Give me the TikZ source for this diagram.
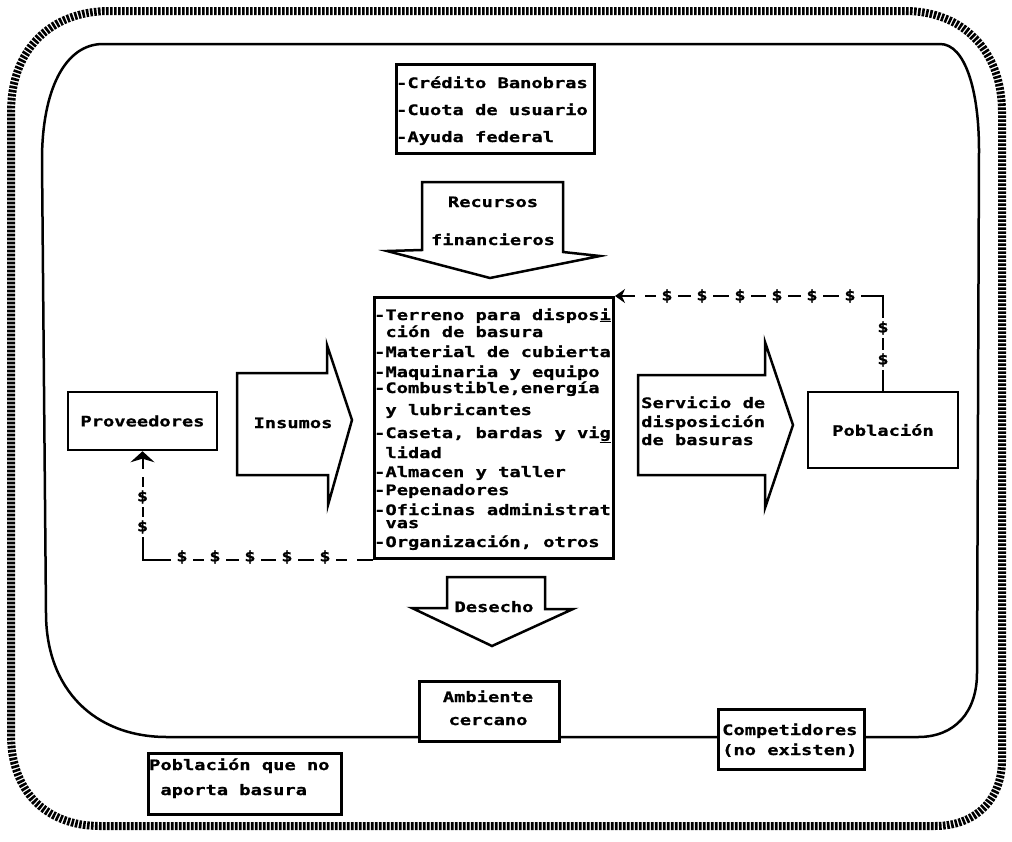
\documentclass[tikz,border=0pt]{standalone}
\usepackage{fontspec}
\newfontfamily\dotfont[FakeStretch=1.3,FakeBold=1]{DejaVu Sans Mono Bold}
\usetikzlibrary{arrows.meta}

\begin{document}
\begin{tikzpicture}[x=1pt,y=-1pt,
  every node/.style={font=\dotfont\fontsize{14.4}{16}\selectfont, inner sep=0pt},
  box/.style={draw, line width=2.5pt, fill=white},
  blockarrow/.style={draw, line width=2.5pt, line join=miter, fill=white},
  hatch/.style={line width=8pt, dash pattern=on 2.6pt off 1.4pt},
  frame/.style={line width=2.5pt},
  money/.style={line width=2pt},
  dol/.style={fill=white, inner xsep=5pt, inner ysep=3pt},
  txt/.style={anchor=base west},
  ctr/.style={anchor=base}
]
\useasboundingbox (0,0) rectangle (1012,841);

% outer environment border
\draw[hatch] (110,11) -- (905,11) .. controls (962,11) and (1002,50) .. (1002,112)
  -- (1002,760) .. controls (1002,800) and (975,826) .. (935,826)
  -- (100,826) .. controls (45,826) and (11,790) .. (11,735)
  -- (11,112) .. controls (11,50) and (50,11) .. (110,11) -- cycle;

% inner system border
\draw[frame] (103,44) -- (940,44) .. controls (965,44) and (979,90) .. (979,150)
  -- (977,673) .. controls (977,712) and (955,737) .. (918,737)
  -- (167,737) .. controls (95,737) and (46,690) .. (46,613)
  -- (42,160) .. controls (42,90) and (65,44) .. (103,44) -- cycle;

% sources of funding
\node[box, anchor=north west, minimum width=198pt, minimum height=89pt] (fund) at (395,63) {};
\node[txt] (f1) at (396,88) {-Crédito Banobras};
\node[txt] (f2) at (396,115) {-Cuota de usuario};
\node[txt] (f3) at (396,142) {-Ayuda federal};

% financial resources arrow
\draw[blockarrow] (422,182) -- (563,182) -- (563,252) -- (600,256) -- (490,278)
  -- (387,251) -- (422,250) -- cycle;
\node[ctr] (rec1) at (493,207) {Recursos};
\node[ctr] (rec2) at (493,245) {financieros};

% central list of resources
\node[box, line width=3pt, anchor=north west, minimum width=239pt, minimum height=261pt] (cb) at (373,296) {};
\node[txt] (l1) at (374,320) {-Terreno para dispos\underline{i}};
\node[txt] (l2) at (374,337) {\hphantom{-}ción de basura};
\node[txt] (l3) at (374,357) {-Material de cubierta};
\node[txt] (l4) at (374,377) {-Maquinaria y equipo};
\node[txt] (l5) at (374,393) {-Combustible,energía};
\node[txt] (l6) at (374,415) {\hphantom{-}y lubricantes};
\node[txt] (l7) at (374,438) {-Caseta, bardas y vi\underline{g}};
\node[txt] (l8) at (374,458) {\hphantom{-}lidad};
\node[txt] (l9) at (374,477) {-Almacen y taller};
\node[txt] (l10) at (374,495) {-Pepenadores};
\node[txt] (l11) at (374,515) {-Oficinas administrat};
\node[txt] (l12) at (374,528) {\hphantom{-}vas};
\node[txt] (l13) at (374,547) {-Organización, otros};

% suppliers and inputs
\node[box, minimum width=149pt, minimum height=58pt] (prov) at (142.5,421) {Proveedores};
\draw[blockarrow] (237,373) -- (327,373) -- (327,345) -- (352,420) -- (328,505)
  -- (328,475) -- (237,475) -- cycle;
\node[ctr] (ins) at (293,428) {Insumos};

% service to the population
\draw[blockarrow] (638,375) -- (765,375) -- (765,342) -- (793,425) -- (765,508)
  -- (765,475) -- (638,475) -- cycle;
\node[txt] (s1) at (641,408) {Servicio de};
\node[txt] (s2) at (641,427) {disposición};
\node[txt] (s3) at (641,445) {de basuras};
\node[box, minimum width=150pt, minimum height=76pt] (pob) at (883,430) {Población};

% waste output
\draw[blockarrow] (447,577) -- (545,577) -- (545,609) -- (573,609) -- (492,646)
  -- (412,608) -- (447,608) -- cycle;
\node[ctr] (des) at (494,612) {Desecho};
\node[box, anchor=north west, minimum width=140pt, minimum height=60pt] (amb) at (418,680) {};
\node[ctr] (a1) at (488,702) {Ambiente};
\node[ctr] (a2) at (488,725) {cercano};

% competitors and non-contributing population
\node[box, anchor=north west, minimum width=146pt, minimum height=60pt] (comp) at (717,708) {};
\node[txt] (c1) at (722,735) {Competidores};
\node[txt] (c2) at (722,755) {(no existen)};
\node[box, anchor=north west, minimum width=193pt, minimum height=61pt] (noap) at (147,752) {};
\node[txt] (n1) at (149,770) {Población que no};
\node[txt] (n2) at (149,795) {\hphantom{-}aporta basura};

% money flows
\draw[money, -{Stealth[width=14pt,length=10pt]}] (pob.north) |- (cb.north east);
\draw[money, -{Stealth[width=24pt,length=11pt]}] (cb.south west) -| (prov.south);
\foreach \x [count=\i] in {667,702,740,777,812,850}
  \node[dol] (t\i) at (\x,296) {\$};
\node[dol] (t0) at (640,296) {\vphantom{\$}};
\node[dol] (v1) at (883,328) {\$};
\node[dol] (v2) at (883,360) {\$};
\foreach \x [count=\i] in {182,215,250,287,325}
  \node[dol] (b\i) at (\x,557) {\$};
\node[dol] (b0) at (352,557) {\vphantom{\$}};
\node[dol] (w1) at (142.5,497) {\$};
\node[dol] (w2) at (142.5,527) {\$};
\node[dol, inner ysep=4pt] (w0) at (142.5,473) {};
\end{tikzpicture}
\end{document}
